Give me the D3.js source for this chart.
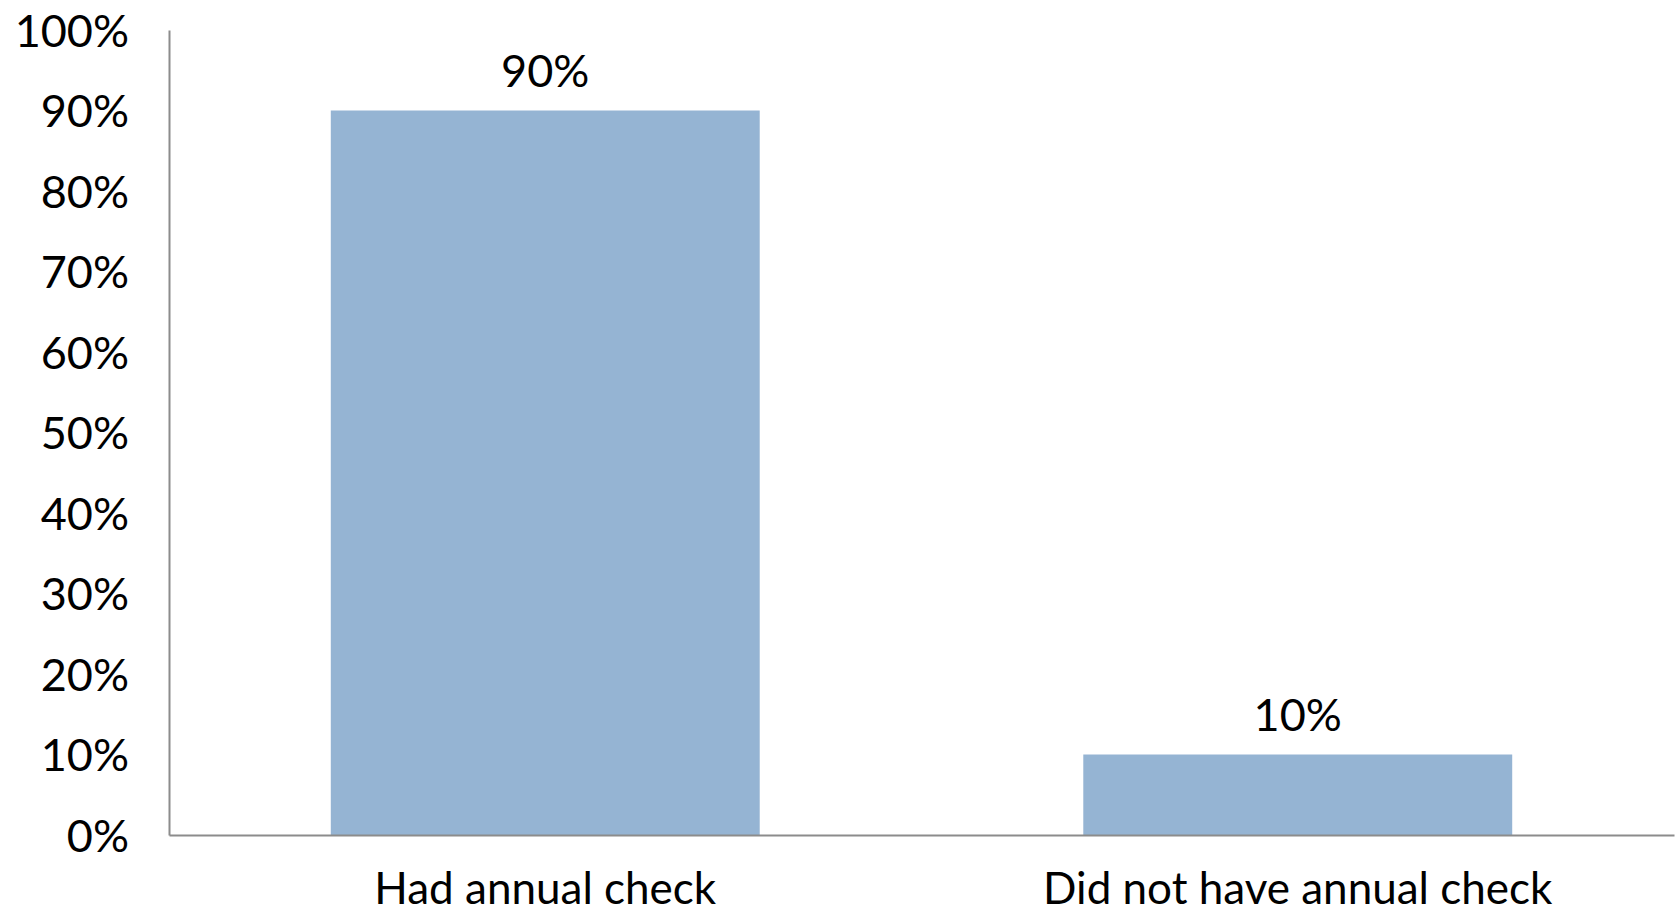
<!DOCTYPE html>
<html lang="en">
  <head>
    <meta charset="utf-8">
    <title>Annual check</title>
    <script src="https://d3js.org/d3.v7.min.js"></script>
    <style>
      body { margin: 0; background: #fff; }
      text { font-family: Lato, "Open Sans", sans-serif; fill: #000; }
    </style>
  </head>
  <body>
    <script>
      var categories = ["Had annual check", "Did not have annual check"];
      var values = [0.90, 0.10];
      var yTicks = [0, 0.1, 0.2, 0.3, 0.4, 0.5, 0.6, 0.7, 0.8, 0.9, 1.0];

      var width = 1676,
          height = 913;
      var margin = {top: 30, right: 2, bottom: 78, left: 169};

      var svg = d3.select("body").append("svg")
        .attr("width", width)
        .attr("height", height);

      var x = d3.scaleBand()
        .domain(categories)
        .range([margin.left, width - margin.right])
        .paddingInner(0.43)
        .paddingOuter(0.215);

      var y = d3.scaleLinear()
        .domain([0, 1])
        .range([height - margin.bottom, margin.top]);

      var fmt = d3.format(".0%");

      // bars
      svg.append("g")
        .selectAll("rect")
        .data(values)
        .enter().append("rect")
        .attr("x", function(d, i) { return x(categories[i]); })
        .attr("width", x.bandwidth())
        .attr("y", function(d) { return y(d); })
        .attr("height", function(d) { return y(0) - y(d); })
        .style("fill", "#95b4d3");

      // value labels
      svg.append("g")
        .selectAll("text")
        .data(values)
        .enter().append("text")
        .attr("x", function(d, i) { return x(categories[i]) + x.bandwidth() / 2; })
        .attr("y", function(d) { return y(d) - 24; })
        .attr("text-anchor", "middle")
        .style("font-size", "45px")
        .text(function(d) { return fmt(d); });

      // y axis
      var yAxis = svg.append("g")
        .attr("transform", "translate(" + margin.left + ",0)")
        .call(d3.axisLeft(y).tickValues(yTicks).tickFormat(fmt).tickSize(0).tickPadding(40));
      yAxis.select(".domain").attr("stroke", "#8c8c8c").attr("stroke-width", 2);
      yAxis.selectAll("text").style("font-size", "45px").attr("dy", "0.36em");

      // x axis
      var xAxis = svg.append("g")
        .attr("transform", "translate(0," + y(0) + ")")
        .call(d3.axisBottom(x).tickSize(0).tickPadding(0));
      xAxis.select(".domain").attr("stroke", "#8c8c8c").attr("stroke-width", 2);
      xAxis.selectAll("text")
        .style("font-size", "44px")
        .attr("y", 0)
        .attr("dy", 0)
        .attr("dominant-baseline", "alphabetic")
        .attr("transform", "translate(0,69)");
    </script>
  </body>
</html>
